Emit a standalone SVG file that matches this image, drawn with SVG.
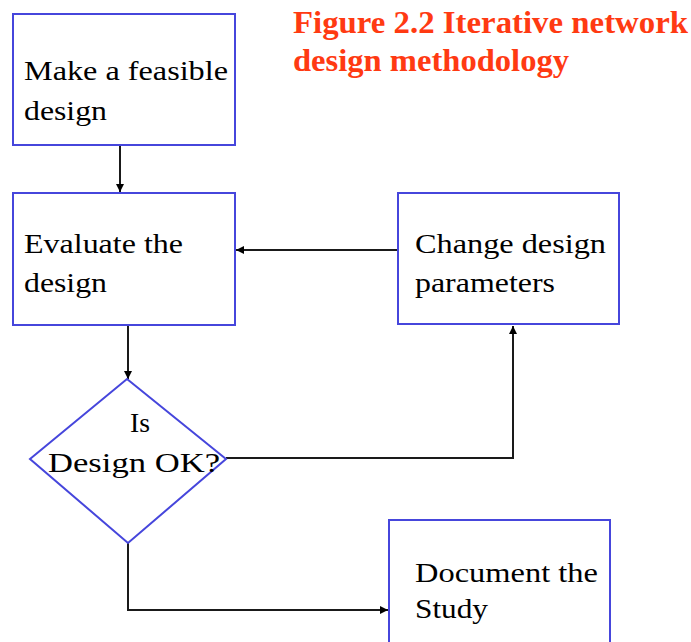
<svg xmlns="http://www.w3.org/2000/svg" width="691" height="642" viewBox="0 0 691 642">
  <style>
    .box { fill: #ffffff; stroke: #4646dc; stroke-width: 2; }
    .label { font-family: "Liberation Serif", "Times New Roman", serif; font-size: 28px; fill: #000000; }
    .title { font-family: "Liberation Serif", "Times New Roman", serif; font-size: 32px; font-weight: bold; fill: #ff3a12; }
    .wire { fill: none; stroke: #1a1a1a; stroke-width: 2; }
  </style>
  <defs>
    <marker id="head" markerUnits="userSpaceOnUse" markerWidth="10" markerHeight="10" refX="9" refY="5" orient="auto">
      <path d="M1,1 L9,5 L1,9 Z" fill="#000000"/>
    </marker>
  </defs>
  <rect width="691" height="642" fill="#ffffff"/>

  <g id="title">
    <text class="title" x="293" y="33" textLength="395" lengthAdjust="spacingAndGlyphs">Figure 2.2 Iterative network</text>
    <text class="title" x="293" y="71" textLength="276" lengthAdjust="spacingAndGlyphs">design methodology</text>
  </g>

  <g id="connectors">
    <path class="wire" d="M120,145 L120,192" marker-end="url(#head)"/>
    <path class="wire" d="M398,250 L236,250" marker-end="url(#head)"/>
    <path class="wire" d="M128,325 L128,379" marker-end="url(#head)"/>
    <path class="wire" d="M226,458 L513,458 L513,326" marker-end="url(#head)"/>
    <path class="wire" d="M128,543 L128,610 L388,610" marker-end="url(#head)"/>
  </g>

  <g id="make-design">
    <rect class="box" x="13" y="14" width="222" height="131"/>
    <text class="label" x="24" y="80" textLength="204" lengthAdjust="spacingAndGlyphs">Make a feasible</text>
    <text class="label" x="24" y="120" textLength="83" lengthAdjust="spacingAndGlyphs">design</text>
  </g>

  <g id="evaluate">
    <rect class="box" x="13" y="193" width="222" height="132"/>
    <text class="label" x="24" y="253" textLength="159" lengthAdjust="spacingAndGlyphs">Evaluate the</text>
    <text class="label" x="24" y="292" textLength="83" lengthAdjust="spacingAndGlyphs">design</text>
  </g>

  <g id="change-params">
    <rect class="box" x="398" y="193" width="221" height="131"/>
    <text class="label" x="415" y="253" textLength="191" lengthAdjust="spacingAndGlyphs">Change design</text>
    <text class="label" x="415" y="292" textLength="140" lengthAdjust="spacingAndGlyphs">parameters</text>
  </g>

  <g id="decision">
    <polygon class="box" points="127,379 226,459 128,543 30,459"/>
    <text class="label" x="130" y="432" textLength="20" lengthAdjust="spacingAndGlyphs">Is</text>
    <text class="label" x="48" y="472" textLength="172" lengthAdjust="spacingAndGlyphs">Design OK?</text>
  </g>

  <g id="document">
    <rect class="box" x="389" y="520" width="221" height="130"/>
    <text class="label" x="415" y="582" textLength="183" lengthAdjust="spacingAndGlyphs">Document the</text>
    <text class="label" x="415" y="618" textLength="73" lengthAdjust="spacingAndGlyphs">Study</text>
  </g>
</svg>
